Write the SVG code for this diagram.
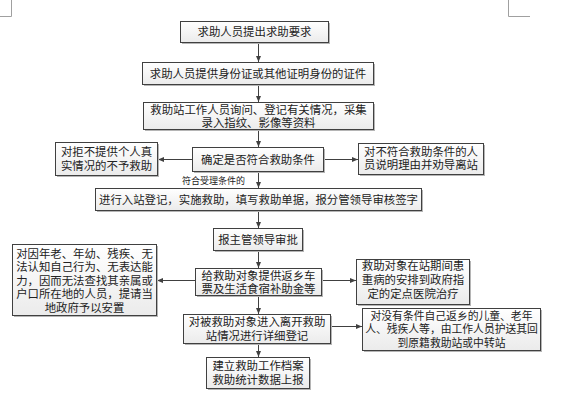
<svg xmlns="http://www.w3.org/2000/svg" width="573" height="401" viewBox="0 0 573 401">
<defs>
<linearGradient id="g" x1="0" y1="0" x2="0" y2="1">
<stop offset="0" stop-color="#ffffff"/>
<stop offset="1" stop-color="#ebebeb"/>
</linearGradient>
<marker id="ah" markerUnits="userSpaceOnUse" markerWidth="7" markerHeight="6" refX="6" refY="2.5" orient="auto">
<path d="M0,0 L6,2.5 L0,5 z" fill="#404040"/>
</marker>
</defs>
<style>
.box{fill:url(#g);stroke:#404040;stroke-width:1}
.sh{fill:#b5b5b5}
.t{font-family:"Liberation Serif","Noto Sans CJK SC","Noto Sans CJK JP",serif;font-size:11.4px;fill:#222;text-anchor:middle;dominant-baseline:central}
.s{font-size:9px;text-anchor:end}
.c{fill:none;stroke:#404040;stroke-width:1;marker-end:url(#ah)}
.m{fill:none;stroke:#a0a0a0;stroke-width:1}
</style>
<rect width="573" height="401" fill="#fff"/>
<path class="m" d="M11.5,0 V16.5 H0 M508.5,0 V16.5 H530"/>
<g id="connectors">
<path class="c" d="M258.5,42.5 V62"/>
<path class="c" d="M258.5,84.5 V102"/>
<path class="c" d="M258.5,129.5 V147"/>
<path class="c" d="M258.5,171.5 V188"/>
<path class="c" d="M258.5,210.5 V228"/>
<path class="c" d="M258.5,250.5 V268"/>
<path class="c" d="M258.5,295.5 V314"/>
<path class="c" d="M258.5,343.5 V357"/>
<path class="c" d="M192.5,159.5 H158"/>
<path class="c" d="M323.5,159.5 H358"/>
<path class="c" d="M195.5,280.5 H157"/>
<path class="c" d="M321.5,280.5 H356"/>
<path class="c" d="M330.5,326.5 H362"/>
<text class="t s" x="245" y="180.5">符合受理条件的</text>
</g>
<g id="n1"><rect class="sh" x="182" y="23" width="148" height="21"/><rect class="box" x="180.5" y="21.5" width="148" height="21"/><text class="t" x="254.5" y="32">求助人员提出求助要求</text></g>
<g id="n2"><rect class="sh" x="144" y="64" width="231" height="22"/><rect class="box" x="142.5" y="62.5" width="231" height="22"/><text class="t" x="258" y="73.5">求助人员提供身份证或其他证明身份的证件</text></g>
<g id="n3"><rect class="sh" x="145" y="104" width="230" height="27"/><rect class="box" x="143.5" y="102.5" width="230" height="27"/><text class="t"><tspan x="258.5" y="109.5">救助站工作人员询问、登记有关情况，采集</tspan><tspan x="258.5" y="123.3">录入指纹、影像等资料</tspan></text></g>
<g id="n4"><rect class="sh" x="194" y="149" width="131" height="24"/><rect class="box" x="192.5" y="147.5" width="131" height="24"/><text class="t" x="258" y="159.5">确定是否符合救助条件</text></g>
<g id="n5"><rect class="sh" x="57" y="144" width="102" height="33"/><rect class="box" x="55.5" y="142.5" width="102" height="33"/><text class="t"><tspan x="106.5" y="152.3">对拒不提供个人真</tspan><tspan x="106.5" y="165.5">实情况的不予救助</tspan></text></g>
<g id="n6"><rect class="sh" x="360" y="145" width="125" height="31"/><rect class="box" x="358.5" y="143.5" width="125" height="31"/><text class="t"><tspan x="421" y="152.3">对不符合救助条件的人</tspan><tspan x="421" y="165.3">员说明理由并劝导离站</tspan></text></g>
<g id="n7"><rect class="sh" x="97" y="190" width="326" height="22"/><rect class="box" x="95.5" y="188.5" width="326" height="22"/><text class="t" x="258.5" y="199.5">进行入站登记，实施救助，填写救助单据，报分管领导审核签字</text></g>
<g id="n8"><rect class="sh" x="215" y="230" width="89" height="22"/><rect class="box" x="213.5" y="228.5" width="89" height="22"/><text class="t" x="258" y="239.5">报主管领导审批</text></g>
<g id="n9"><rect class="sh" x="14" y="246" width="144" height="71"/><rect class="box" x="12.5" y="244.5" width="144" height="71"/>
<text class="t"><tspan x="84.5" y="253.5">对因年老、年幼、残疾、无</tspan><tspan x="84.5" y="267.2">法认知自己行为、无表达能</tspan><tspan x="84.5" y="280.8">力，因而无法查找其亲属或</tspan><tspan x="84.5" y="294.3">户口所在地的人员，提请当</tspan><tspan x="84.5" y="307.6">地政府予以安置</tspan></text></g>
<g id="n10"><rect class="sh" x="197" y="270" width="126" height="27"/><rect class="box" x="195.5" y="268.5" width="126" height="27"/><text class="t"><tspan x="258.5" y="275.5">给救助对象提供返乡车</tspan><tspan x="258.5" y="289">票及生活食宿补助金等</tspan></text></g>
<g id="n11"><rect class="sh" x="358" y="261" width="113" height="45"/><rect class="box" x="356.5" y="259.5" width="113" height="45"/><text class="t"><tspan x="413" y="266.3">救助对象在站期间患</tspan><tspan x="413" y="280.3">重病的安排到政府指</tspan><tspan x="413" y="294.3">定的定点医院治疗</tspan></text></g>
<g id="n12"><rect class="sh" x="185" y="316" width="147" height="29"/><rect class="box" x="183.5" y="314.5" width="147" height="29"/><text class="t"><tspan x="257" y="321.8">对被救助对象进入离开救助</tspan><tspan x="257" y="335.5">站情况进行详细登记</tspan></text></g>
<g id="n13"><rect class="sh" x="364" y="310" width="178" height="42"/><rect class="box" x="362.5" y="308.5" width="178" height="42"/><text class="t" style="font-size:10.8px"><tspan x="451.5" y="315.5">对没有条件自己返乡的儿童、老年</tspan><tspan x="451.5" y="329.2">人、残疾人等，由工作人员护送其回</tspan><tspan x="451.5" y="342.7">到原籍救助站或中转站</tspan></text></g>
<g id="n14"><rect class="sh" x="208" y="359" width="103" height="31"/><rect class="box" x="206.5" y="357.5" width="103" height="31"/><text class="t"><tspan x="258" y="365.8">建立救助工作档案</tspan><tspan x="258" y="379.8">救助统计数据上报</tspan></text></g>
</svg>
